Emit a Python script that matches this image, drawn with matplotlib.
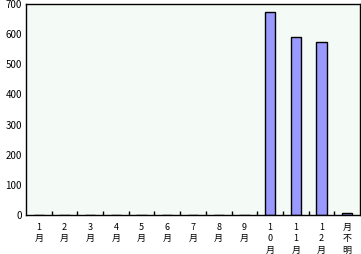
import matplotlib.pyplot as plt
import numpy as np

plt.rcParams['font.family'] = ['Noto Sans CJK JP', 'DejaVu Sans']

# data
months = ['1\n月', '2\n月', '3\n月', '4\n月', '5\n月', '6\n月', '7\n月', '8\n月', '9\n月',
          '1\n0\n月', '1\n1\n月', '1\n2\n月', '月\n不\n明']
counts = [0, 0, 0, 0, 0, 0, 0, 0, 0, 672, 589, 573, 6]
yticks = [0, 100, 200, 300, 400, 500, 600, 700]

fig = plt.figure(figsize=(3.61, 2.54), dpi=100)
ax = fig.add_axes([26 / 361, 1 - 215 / 254, 334 / 361, 211 / 254])
ax.set_facecolor('#F4FAF6')

x = np.arange(len(months))
ax.bar(x, counts, width=0.4, color='#9999FF', edgecolor='black', linewidth=1)

ax.set_xlim(-0.5, len(months) - 0.5)
ax.set_ylim(0, 700)
ax.set_yticks(yticks)
ax.set_yticklabels([str(v) for v in yticks], fontsize=7)
ax.tick_params(axis='y', length=0, pad=3)

# tick marks between categories, labels centred under bars
ax.set_xticks(x[:-1] + 0.5, minor=True)
ax.set_xticks(x)
ax.set_xticklabels(months, fontsize=6.5, linespacing=1.3, va='top')
ax.tick_params(axis='x', which='major', length=0, pad=6)
ax.tick_params(axis='x', which='minor', direction='in', length=3, width=1)

for s in ax.spines.values():
    s.set_linewidth(1)
    s.set_color('black')

fig.savefig('out.png', dpi=100)
